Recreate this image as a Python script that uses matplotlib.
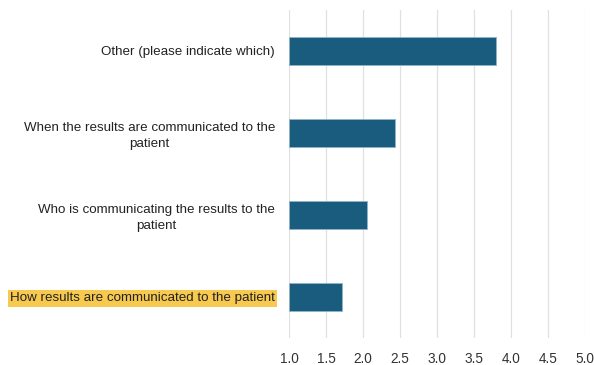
import matplotlib.pyplot as plt

# average rating per topic, listed bottom to top
topics = [
    'How results are communicated to the patient',
    'Who is communicating the results to the\npatient',
    'When the results are communicated to the\npatient',
    'Other (please indicate which)',
]
scores = [1.71, 2.05, 2.43, 3.80]
x_ticks = [1.0, 1.5, 2.0, 2.5, 3.0, 3.5, 4.0, 4.5, 5.0]

plt.rcParams['font.family'] = ['Liberation Sans', 'DejaVu Sans']

fig = plt.figure(figsize=(5.94, 3.65), dpi=100)
ax = fig.add_axes([0.4865, 0.074, 0.4985, 0.8986])

base = 1.0
ax.barh(range(len(topics)), [s - base for s in scores], left=base, height=0.35,
        color='#195c7e', edgecolor='#8fb3c8', linewidth=0.6, zorder=3)

ax.set_xlim(1.0, 5.0)
ax.set_ylim(-0.5, len(topics) - 0.5)
ax.set_xticks(x_ticks)
ax.set_xticklabels(['%.1f' % t for t in x_ticks], fontsize=9.8, color='#333333')
ax.set_yticks(range(len(topics)))
ax.set_yticklabels(topics, fontsize=9.6, color='#222222', multialignment='center',
                   linespacing=1.35)
ax.tick_params(axis='both', length=0)
ax.tick_params(axis='y', pad=10)
ax.tick_params(axis='x', pad=10)

ax.grid(axis='x', color='#e0e0e0', linewidth=0.9, zorder=0)
ax.grid(axis='y', visible=False)
for side in ax.spines.values():
    side.set_visible(False)

# highlight the first topic label
ax.get_yticklabels()[0].set_bbox(dict(facecolor='#f7c94f', edgecolor='none', pad=1.5))

fig.savefig('out.png', dpi=100)
